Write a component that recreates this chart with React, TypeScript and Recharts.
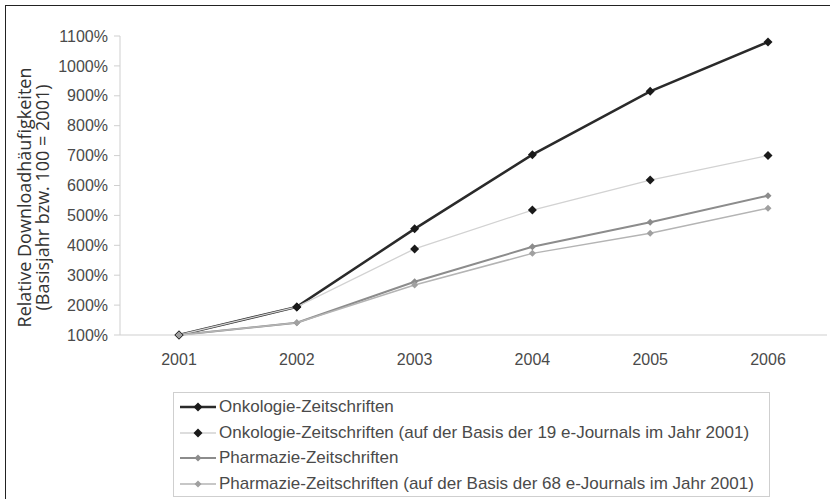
import { LineChart, Line, XAxis, YAxis, Label } from 'recharts';

const YEARS = ['2001', '2002', '2003', '2004', '2005', '2006'];
const ONKO = [100, 194, 455, 703, 915, 1080];
const ONKO_19 = [100, 194, 388, 518, 618, 700];
const PHARMA = [100, 141, 278, 395, 477, 566];
const PHARMA_68 = [100, 141, 267, 373, 440, 524];
const Y_TICKS = [100, 200, 300, 400, 500, 600, 700, 800, 900, 1000, 1100];

const SERIES = [
    { key: 'onko', name: 'Onkologie-Zeitschriften', stroke: '#2a2a2a', width: 2.5, dot: '#1a1a1a', r: 4.5 },
    { key: 'onko19', name: 'Onkologie-Zeitschriften (auf der Basis der 19 e-Journals im Jahr 2001)', stroke: '#d2d2d2', width: 1.3, dot: '#1a1a1a', r: 4.5 },
    { key: 'pharma', name: 'Pharmazie-Zeitschriften', stroke: '#8c8c8c', width: 2, dot: '#8c8c8c', r: 3.5 },
    { key: 'pharma68', name: 'Pharmazie-Zeitschriften (auf der Basis der 68 e-Journals im Jahr 2001)', stroke: '#b4b4b4', width: 1.5, dot: '#a0a0a0', r: 3.5 },
];

const data = YEARS.map((year, i) => ({
    year, onko: ONKO[i], onko19: ONKO_19[i], pharma: PHARMA[i], pharma68: PHARMA_68[i],
}));

const FONT = "'Liberation Sans', Arial, sans-serif";

function diamond(fill: string, r: number) {
    return (p: any) => {
        const { cx, cy, index } = p;
        if (cx == null || cy == null) return <g key={index} />;
        return <path key={index} d={`M${cx},${cy - r}L${cx + r},${cy}L${cx},${cy + r}L${cx - r},${cy}Z`} fill={fill} />;
    };
}

// zweizeiliger, gedrehter Achsentitel
function YTitle(props: any) {
    const { viewBox } = props;
    const cy = viewBox.y + viewBox.height / 2 + 12;
    return (
        <text transform={`rotate(-90, 31, ${cy})`} x={31} y={cy} textAnchor="middle"
            fontFamily="'Open Sans', sans-serif" fontSize={18} fill="#333">
            <tspan x={31} dy={0}>Relative Downloadhäufigkeiten</tspan>
            <tspan x={31} dy={18}>(Basisjahr bzw. 100 = 2001)</tspan>
        </text>
    );
}

export default function App() {
    const tick = { fontSize: 16, fill: '#4a4a4a', fontFamily: FONT };
    return (
        <div style={{ position: 'absolute', left: 0, top: 0, width: 830, height: 499, background: '#fff', overflow: 'hidden' }}>
            <div style={{ position: 'absolute', left: 5, top: 5, width: 840, height: 510, borderTop: '1.5px solid #222', borderLeft: '1.5px solid #222' }} />
            <LineChart width={830} height={499} data={data} margin={{ top: 36, right: 3, bottom: 134, left: 0 }}>
                <XAxis dataKey="year" tick={tick} tickLine={false} tickMargin={13} height={30}
                    axisLine={{ stroke: '#cfcfcf' }} padding={{ left: 59, right: 59 }} />
                <YAxis type="number" domain={[100, 1100]} ticks={Y_TICKS} interval={0} width={120}
                    tickFormatter={(v) => `${v}%`} tick={tick} tickSize={6} tickMargin={6}
                    tickLine={{ stroke: '#cfcfcf' }} axisLine={{ stroke: '#cfcfcf' }}>
                    <Label content={<YTitle />} />
                </YAxis>
                {SERIES.map(s => (
                    <Line key={s.key} dataKey={s.key} name={s.name} type="linear" stroke={s.stroke}
                        strokeWidth={s.width} dot={diamond(s.dot, s.r)} activeDot={false} isAnimationActive={false} />
                ))}
            </LineChart>
            <div style={{ position: 'absolute', left: 173, top: 392, width: 597, height: 105, border: '1px solid #cfcfcf', boxSizing: 'border-box', fontFamily: FONT, fontSize: 17, color: '#4a4a4a' }}>
                {SERIES.map((s, i) => (
                    <div key={s.key} style={{ position: 'absolute', left: 6, top: 4 + i * 25.5, height: 20, display: 'flex', alignItems: 'center', whiteSpace: 'nowrap' }}>
                        <svg width={36} height={20} style={{ marginRight: 3 }}>
                            <line x1={0} y1={10} x2={36} y2={10} stroke={s.stroke} strokeWidth={s.width} />
                            <path d={`M18,${10 - s.r}L${18 + s.r},10L18,${10 + s.r}L${18 - s.r},10Z`} fill={s.dot} />
                        </svg>
                        <span>{s.name}</span>
                    </div>
                ))}
            </div>
        </div>
    );
}
